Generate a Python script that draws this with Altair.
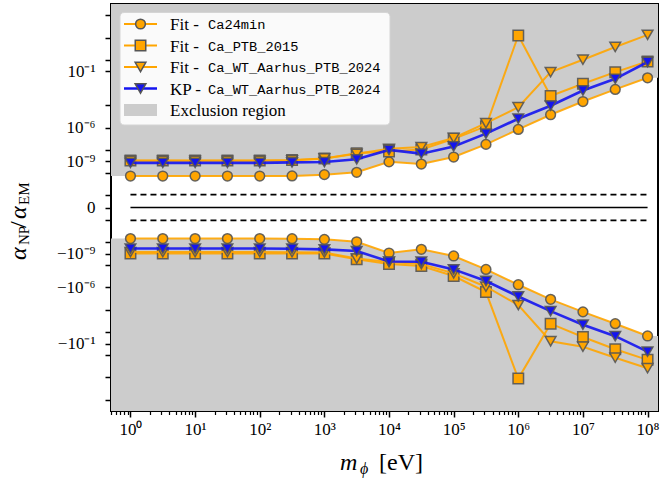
import altair as alt
import pandas as pd

# ---------------- data ----------------
mass = [1, 3.162, 10, 31.62, 100, 316.2, 1e3, 3162, 1e4, 3.162e4, 1e5,
        3.162e5, 1e6, 3.162e6, 1e7, 3.162e7, 1e8]

ca24_up = [4.9e-11, 4.9e-11, 4.9e-11, 4.9e-11, 4.9e-11, 5.0e-11, 6.5e-11, 1.05e-10,
           8.9e-10, 5.7e-10, 2.4e-9, 3.2e-8, 6.9e-7, 1.4e-5, 2.1e-4, 2.5e-3, 2.7e-2]
ca24_lo = [-4.5e-11, -4.5e-11, -4.5e-11, -4.5e-11, -4.5e-11, -4.6e-11, -5.3e-11, -8.7e-11,
           -8.7e-10, -4.1e-10, -1.6e-9, -2.5e-8, -5.8e-7, -1.15e-5, -1.5e-4, -1.7e-3, -2.1e-2]

ptb_up = [1.2e-9, 1.2e-9, 1.2e-9, 1.2e-9, 1.2e-9, 1.3e-9, 1.8e-9, 5.1e-9,
          7.6e-9, 1.15e-8, 1.0e-7, 1.3e-6, 1.6e2, 6.6e-4, 8.0e-3, 8.6e-2, 0.76]
ptb_lo = [-9.7e-10, -9.7e-10, -9.7e-10, -9.7e-10, -9.7e-10, -9.7e-10, -9.7e-10, -3.2e-9,
          -8.3e-9, -1.26e-8, -9.7e-8, -2.6e-6, -1.3e2, -1.7e-3, -2.6e-2, -0.32, -2.8]

wt_up = [1.1e-9, 1.1e-9, 1.1e-9, 1.1e-9, 1.1e-9, 1.2e-9, 1.8e-9, 4.6e-9,
         1.3e-8, 1.85e-8, 1.2e-7, 2.5e-6, 6.5e-5, 8.6e-2, 1.1, 15, 180]
wt_lo = [-7.1e-10, -7.1e-10, -7.1e-10, -7.1e-10, -7.1e-10, -7.3e-10, -7.9e-10, -2.7e-9,
         -5.5e-9, -8.3e-9, -5.6e-8, -8.7e-7, -3.7e-5, -6.2e-2, -0.19, -1.8, -15.5]

kp_up = [7.3e-10, 7.3e-10, 7.3e-10, 7.3e-10, 7.3e-10, 8.0e-10, 8.6e-10, 1.5e-9,
         1.04e-8, 4.8e-9, 2.1e-8, 2.9e-7, 6.2e-6, 8.9e-5, 2.0e-3, 2.2e-2, 0.69]
kp_lo = [-3.5e-10, -3.5e-10, -3.5e-10, -3.5e-10, -3.5e-10, -3.6e-10, -4.1e-10, -5.8e-10,
         -5.0e-9, -5.2e-9, -2.5e-8, -2.7e-7, -6.4e-6, -1.3e-4, -2.1e-3, -2.2e-2, -0.52]

x_tick_values = [1, 10, 100, 1e3, 1e4, 1e5, 1e6, 1e7, 1e8]
x_tick_labels = ["10⁰", "10¹", "10²", "10³", "10⁴", "10⁵", "10⁶", "10⁷", "10⁸"]
x_minor_values = [m * 10 ** k for k in range(-1, 9) for m in range(2, 10)]

y_label_values = [-1e-1, -1e-6, -1e-9, 0, 1e-9, 1e-6, 1e-1]
y_label_texts = ["−10⁻¹", "−10⁻⁶", "−10⁻⁹", "0", "10⁻⁹", "10⁻⁶", "10⁻¹"]
y_plain_ticks = [-1e4, -1e2, -1, -1e-2, -1e-4, -1e-8, -1e-10, -1e-12,
                 1e-12, 1e-10, 1e-8, 1e-4, 1, 1e2, 1e4]

legend_names = ["Ca24min", "Ca_PTB_2015", "Ca_WT_Aarhus_PTB_2024", "Ca_WT_Aarhus_PTB_2024"]
legend_prefix = ["Fit - ", "Fit - ", "Fit - ", "KP - "]

# ---------------- style / layout ----------------
ORANGE = "#FFA500"
BLUE = "#1414F0"
EDGE = "#555555"
GREY = "#CCCCCC"
SERIF = "Liberation Serif"
MONO = "Liberation Mono"
XMIN, XMAX = 0.5, 1.45e8
YMAX = 1e5
LINTHRESH = 1e-12
CONST = 7.745e-14
W, H = 547, 407

xs = alt.Scale(type="log", domain=[XMIN, XMAX], nice=False)
ys = alt.Scale(type="symlog", constant=CONST, domain=[-YMAX, YMAX], nice=False, zero=False)

x_expr = "[" + ",".join(f"'{s}'" for s in x_tick_labels) + "][round(log(datum.value)/LN10)]"
y_expr = " : ".join(f"datum.value == {v!r} ? '{s}'" for v, s in zip(y_label_values, y_label_texts)) + " : ''"

x_axis = alt.Axis(values=x_tick_values, labelExpr=x_expr, orient="bottom", tickSize=6,
                  tickWidth=1.5, tickColor="black", domain=False, grid=False, title=None,
                  labelFont=SERIF, labelFontSize=17, labelColor="black", labelPadding=4,
                  labelOverlap=False, labelFlush=False, labelBound=False)
x_minor_axis = alt.Axis(values=x_minor_values, labels=False, orient="bottom", tickSize=3.5,
                        tickWidth=1.2, tickColor="black", domain=False, grid=False, title=None)
y_axis = alt.Axis(values=sorted(y_label_values + y_plain_ticks), labelExpr=y_expr, orient="left",
                  tickSize=6, tickWidth=1.5, tickColor="black", domain=False, grid=False,
                  title=None, labelFont=SERIF, labelFontSize=17, labelColor="black",
                  labelPadding=10, labelOverlap=False, labelFlush=False, labelBound=False)

layers = []

# exclusion region
ex_m = [XMIN] + mass + [XMAX]
ex_df = pd.DataFrame({
    "m": ex_m * 2,
    "edge": [ca24_up[0]] + ca24_up + [ca24_up[-1]] + [ca24_lo[0]] + ca24_lo + [ca24_lo[-1]],
    "lim": [YMAX] * len(ex_m) + [-YMAX] * len(ex_m),
    "branch": ["up"] * len(ex_m) + ["lo"] * len(ex_m),
})
layers.append(alt.Chart(ex_df).mark_area(color=GREY, opacity=1, clip=True).encode(
    x=alt.X("m:Q", scale=xs, axis=x_axis),
    y=alt.Y("edge:Q", scale=ys, axis=y_axis),
    y2="lim:Q",
    detail="branch:N",
))
layers.append(alt.Chart(ex_df).mark_point(opacity=0).encode(
    x=alt.X("m:Q", scale=xs, axis=x_minor_axis),
    y=alt.Y("edge:Q", scale=ys, axis=None),
))

# zero and threshold lines
layers.append(alt.Chart(pd.DataFrame({"k": [0]})).mark_rule(color="black", strokeWidth=1.6).encode(
    x=alt.datum(1, scale=xs, axis=None), x2=alt.datum(1e8), y=alt.datum(0, scale=ys, axis=None)))
for v in (LINTHRESH, -LINTHRESH):
    layers.append(alt.Chart(pd.DataFrame({"k": [0]})).mark_rule(
        color="black", strokeWidth=1.6, strokeDash=[6, 4]).encode(
        x=alt.datum(1, scale=xs, axis=None), x2=alt.datum(1e8), y=alt.datum(v, scale=ys, axis=None)))

series = [
    (ca24_up, ca24_lo, "circle", ORANGE, ORANGE, 95, 2.0),
    (ptb_up, ptb_lo, "square", ORANGE, ORANGE, 110, 2.0),
    (wt_up, wt_lo, "triangle-down", ORANGE, ORANGE, 115, 2.0),
    (kp_up, kp_lo, "triangle-down", BLUE, BLUE, 115, 2.6),
]
for up, lo, shape, lc, fc, size, lw in series:
    df = pd.DataFrame({"m": mass * 2, "a": up + lo, "branch": ["up"] * 17 + ["lo"] * 17})
    enc = dict(x=alt.X("m:Q", scale=xs, axis=None), y=alt.Y("a:Q", scale=ys, axis=None))
    layers.append(alt.Chart(df).mark_line(color=lc, strokeWidth=lw, opacity=0.9).encode(
        detail="branch:N", **enc))
    layers.append(alt.Chart(df).mark_point(shape=shape, filled=True, fill=fc, fillOpacity=1,
                                           stroke=EDGE, strokeWidth=1.5, strokeOpacity=0.9,
                                           size=size).encode(**enc))

# ---------------- custom legend ----------------
one = pd.DataFrame({"k": [0]})
layers.append(alt.Chart(one).mark_rect(fill="white", opacity=0.9, stroke="#D6D6D6",
                                       strokeWidth=1, cornerRadius=4).encode(
    x=alt.value(9), x2=alt.value(279), y=alt.value(8.5), y2=alt.value(121)))
row_y = [20 + 21.5 * i for i in range(5)]
for i, (up, lo, shape, lc, fc, size, lw) in enumerate(series):
    yy = row_y[i]
    layers.append(alt.Chart(one).mark_rule(color=lc, strokeWidth=lw).encode(
        x=alt.value(13), x2=alt.value(46), y=alt.value(yy)))
    layers.append(alt.Chart(one).mark_point(shape=shape, filled=True, fill=fc, fillOpacity=1,
                                            stroke=EDGE, strokeWidth=1.5, size=size).encode(
        x=alt.value(29.5), y=alt.value(yy)))
    layers.append(alt.Chart(one).mark_text(text=legend_prefix[i], font=SERIF, fontSize=17,
                                           align="left", baseline="middle", color="black").encode(
        x=alt.value(59), y=alt.value(yy + 1)))
    layers.append(alt.Chart(one).mark_text(text=legend_names[i], font=MONO, fontSize=13.7,
                                           align="left", baseline="middle", color="black").encode(
        x=alt.value(97), y=alt.value(yy + 1)))
layers.append(alt.Chart(one).mark_rect(fill=GREY).encode(
    x=alt.value(13), x2=alt.value(46), y=alt.value(row_y[4] - 6), y2=alt.value(row_y[4] + 6)))
layers.append(alt.Chart(one).mark_text(text="Exclusion region", font=SERIF, fontSize=17,
                                       align="left", baseline="middle", color="black").encode(
    x=alt.value(59), y=alt.value(row_y[4] + 1)))

# ---------------- axis titles (composite text) ----------------
def txt(s, x, y, size, italic=False, angle=0):
    kw = dict(text=s, font=SERIF, fontSize=size, align="left", baseline="alphabetic", color="black")
    if italic:
        kw["fontStyle"] = "italic"
    if angle:
        kw["angle"] = angle
    return alt.Chart(one).mark_text(**kw).encode(x=alt.value(x), y=alt.value(y))

# x title: m_phi [eV]
layers.append(txt("m", 229, 465.5, 24, italic=True))
layers.append(txt("ϕ", 249, 469.5, 16, italic=True))
layers.append(txt("[eV]", 268, 465.5, 24))
# y title: alpha_NP / alpha_EM (rotated)
layers.append(txt("α", -85.5, 256, 24, italic=True, angle=270))
layers.append(txt("NP", -82, 241, 15, angle=270))
layers.append(txt("/", -85.5, 224, 24, angle=270))
layers.append(txt("α", -85.5, 215, 24, italic=True, angle=270))
layers.append(txt("EM", -82, 201, 15, angle=270))

chart = alt.layer(*layers).resolve_axis(x="independent", y="independent").properties(
    width=W, height=H,
    padding={"left": 111, "top": 4, "right": 3, "bottom": 72},
    autosize=alt.AutoSizeParams(type="none"),
    background="white",
).configure_view(stroke="black", strokeWidth=2)

chart.save("out.html", embed_options={"renderer": "svg", "actions": False})
